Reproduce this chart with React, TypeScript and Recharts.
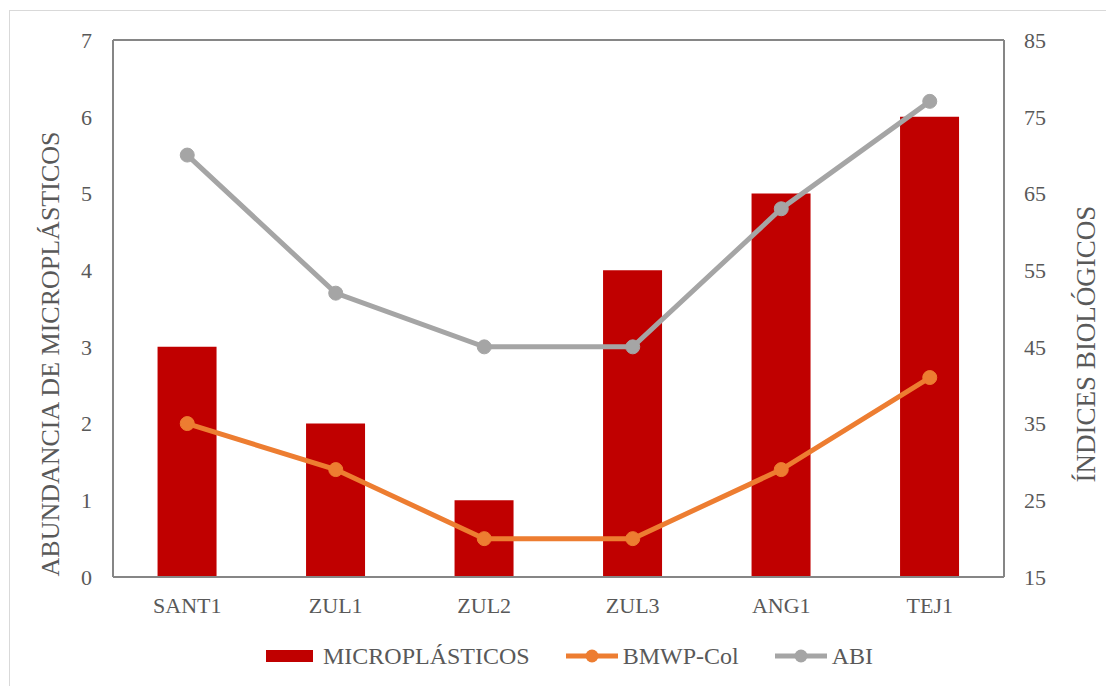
import { ComposedChart, Bar, Line, XAxis, YAxis, ReferenceLine } from 'recharts'

// sampling sites
const sites = ['SANT1', 'ZUL1', 'ZUL2', 'ZUL3', 'ANG1', 'TEJ1']
// microplastic abundance (left axis)
const microplasticos = [3, 2, 1, 4, 5, 6]
// biological indices (right axis)
const bmwpCol = [35, 29, 20, 20, 29, 41]
const abi = [70, 52, 45, 45, 63, 77]

const leftTicks = [0, 1, 2, 3, 4, 5, 6, 7]
const rightTicks = [15, 25, 35, 45, 55, 65, 75, 85]

const data = sites.map((site, i) => ({
  site,
  micro: microplasticos[i],
  bmwp: bmwpCol[i],
  abi: abi[i],
}))

const FONT = 'Liberation Serif'
const TEXT = '#595959'
const AXIS = '#868686'
const RED = '#c00000'
const ORANGE = '#ed7d31'
const GRAY = '#a5a5a5'

const tickStyle = { fill: TEXT, fontSize: 22, fontFamily: FONT }

function LeftTitle() {
  return (
    <text
      x={0}
      y={0}
      transform="translate(59, 354) rotate(-90)"
      textAnchor="middle"
      fill={TEXT}
      fontSize={26}
      fontFamily={FONT}
    >
      ABUNDANCIA DE MICROPLÁSTICOS
    </text>
  )
}

function RightTitle() {
  return (
    <text
      x={0}
      y={0}
      transform="translate(1095, 344) rotate(-90)"
      textAnchor="middle"
      fill={TEXT}
      fontSize={27}
      fontFamily={FONT}
    >
      ÍNDICES BIOLÓGICOS
    </text>
  )
}

function LineIcon({ color }: { color: string }) {
  return (
    <svg width={52} height={16} style={{ display: 'block' }}>
      <line x1={0} y1={8} x2={52} y2={8} stroke={color} strokeWidth={5} />
      <circle cx={26} cy={8} r={6.5} fill={color} />
    </svg>
  )
}

function ChartLegend() {
  const item = { display: 'flex', alignItems: 'center', gap: 5 } as const
  return (
    <div
      style={{
        position: 'absolute',
        left: 266,
        top: 642,
        display: 'flex',
        alignItems: 'center',
        fontFamily: FONT,
        fontSize: 24,
        color: TEXT,
        lineHeight: '28px',
      }}
    >
      <div style={{ ...item, gap: 10 }}>
        <div style={{ width: 47, height: 12, background: RED }} />
        <span>MICROPLÁSTICOS</span>
      </div>
      <div style={{ ...item, marginLeft: 36 }}>
        <LineIcon color={ORANGE} />
        <span>BMWP-Col</span>
      </div>
      <div style={{ ...item, marginLeft: 36 }}>
        <LineIcon color={GRAY} />
        <span>ABI</span>
      </div>
    </div>
  )
}

export default function App() {
  return (
    <div style={{ position: 'absolute', left: 0, top: 0, width: 1106, height: 686, background: '#fff' }}>
      <div
        style={{
          position: 'absolute',
          left: 9,
          top: 10,
          width: 1110,
          height: 700,
          border: '1px solid #d9d9d9',
        }}
      />
      <ComposedChart
        width={1106}
        height={686}
        data={data}
        margin={{ top: 40, right: 42, bottom: 69, left: 53 }}
        barCategoryGap="30%"
        style={{ position: 'absolute', left: 0, top: 0 }}
      >
        <XAxis
          dataKey="site"
          height={40}
          tickLine={false}
          axisLine={{ stroke: AXIS, strokeWidth: 2 }}
          tick={tickStyle}
          tickMargin={14}
        />
        <YAxis
          yAxisId="left"
          width={60}
          domain={[0, 7]}
          ticks={leftTicks}
          tickLine={false}
          axisLine={{ stroke: AXIS, strokeWidth: 2 }}
          tick={tickStyle}
          tickMargin={15}
          label={<LeftTitle />}
        />
        <YAxis
          yAxisId="right"
          orientation="right"
          width={60}
          domain={[15, 85]}
          ticks={rightTicks}
          tickLine={false}
          axisLine={{ stroke: AXIS, strokeWidth: 2 }}
          tick={tickStyle}
          tickMargin={14}
          label={<RightTitle />}
        />
        <ReferenceLine yAxisId="left" y={7} stroke={AXIS} strokeWidth={2} />
        <Bar yAxisId="left" dataKey="micro" name="MICROPLÁSTICOS" fill={RED} isAnimationActive={false} />
        <Line
          yAxisId="right"
          dataKey="bmwp"
          name="BMWP-Col"
          stroke={ORANGE}
          strokeWidth={5}
          dot={{ r: 7, fill: ORANGE, stroke: ORANGE, strokeWidth: 1 }}
          activeDot={false}
          isAnimationActive={false}
        />
        <Line
          yAxisId="right"
          dataKey="abi"
          name="ABI"
          stroke={GRAY}
          strokeWidth={5}
          dot={{ r: 7, fill: GRAY, stroke: GRAY, strokeWidth: 1 }}
          activeDot={false}
          isAnimationActive={false}
        />
      </ComposedChart>
      <ChartLegend />
    </div>
  )
}
